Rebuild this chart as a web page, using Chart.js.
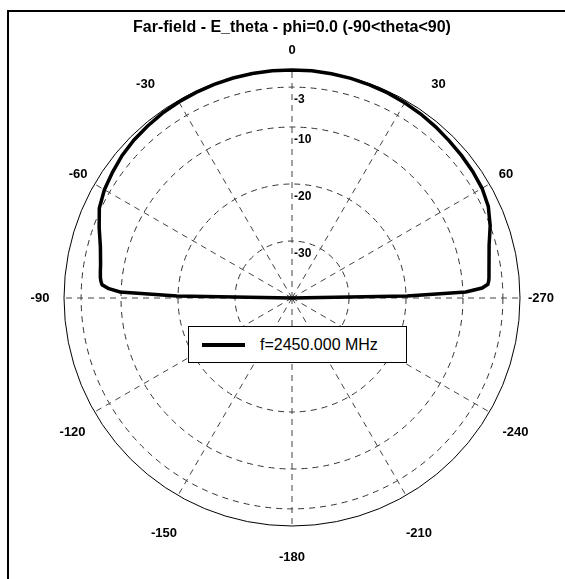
<!DOCTYPE html>
<html>
<head>
<meta charset="utf-8">
<script src="https://cdn.jsdelivr.net/npm/chart.js@4.4.1/dist/chart.umd.min.js"></script>
<style>
  html, body { margin: 0; padding: 0; background: #fff; overflow: hidden; }
  #wrap { position: relative; width: 565px; height: 579px; overflow: hidden; }
  #frame { position: absolute; left: 7px; top: 10px; width: 620px; height: 620px;
           border-top: 2px solid #000; border-left: 2px solid #000; }
  #chart { position: absolute; left: 0; top: 0; }
  #legend { position: absolute; left: 188px; top: 326px; width: 217px; height: 35px;
            border: 1.5px solid #000; background: #fff; display: flex; align-items: center;
            font: 16px "Liberation Sans", Arial, sans-serif; color: #000; }
  #legend .swatch { width: 43px; height: 4px; background: #000; margin: 0 15px 0 13px; }
</style>
</head>
<body>
<div id="wrap">
  <div id="frame"></div>
  <canvas id="chart" width="565" height="579"></canvas>
  <div id="legend"></div>
</div>
<script>
const chartTitle = "Far-field - E_theta - phi=0.0 (-90<theta<90)";
const seriesLabel = "f=2450.000 MHz";

// theta in degrees, gain in dB (normalised, clipped at -40)
const thetaDeg = [-90, -89, -88, -87, -86, -85, -84, -82, -80, -75, -70, -65, -60, -55, -50, -45, -40, -35, -30, -25, -20, -15, -10, -5,
                  0, 5, 10, 15, 20, 25, 30, 35, 40, 45, 50, 55, 60, 65, 70, 75, 80, 82, 84, 85, 86, 87, 88, 89, 90];
const gainDb = [-40, -19.8, -9.8, -7.7, -6.6, -6.35, -6.2, -6.05, -5.9, -5.2, -4.0, -2.7, -2.0, -1.55, -1.1, -0.8, -0.6, -0.4, -0.3, -0.2, -0.1, -0.05, 0, 0,
                0, 0, -0.05, -0.1, -0.2, -0.3, -0.45, -0.6, -0.8, -1.0, -1.15, -1.3, -1.5, -2.0, -3.0, -4.2, -4.9, -5.1, -5.25, -5.35, -5.55, -6.6, -9.5, -19.8, -40];

const ringDb = [-40, -30, -20, -10, -3, 0];
const angleTickLabels = ["0", "30", "60", "-270", "-240", "-210", "-180", "-150", "-120", "-90", "-60", "-30"];

// placement of the angle labels: gap beyond the outer ring, then a small nudge
const angleLabelDist = [20, 21, 19, 21, 30, 40, 31, 40, 30, 24, 19, 21];
const angleLabelNudgeX = [0, 22, 0, 0, 0, -7, 0, 6, 4, 0, 0, -22];
const angleLabelNudgeY = [0, 2, 0, 0, 5, 3, 0, 3, 5, 0, 0, 2];

// one spoke per degree, clockwise from the top
const labels = [];
const values = [];
for (let i = 0; i < 360; i++) {
  labels.push(i % 30 === 0 ? angleTickLabels[i / 30] : "");
  values.push(null);
}
thetaDeg.forEach((t, k) => { values[(t + 360) % 360] = gainDb[k]; });

const font = '"Liberation Sans", Arial, sans-serif';

const polarText = {
  id: "polarText",
  afterDraw(chart) {
    const s = chart.scales.r;
    const ctx = chart.ctx;
    ctx.save();
    ctx.fillStyle = "#000";
    ctx.textBaseline = "middle";
    // ring values along the upper spoke
    ctx.font = "bold 12px " + font;
    ctx.textAlign = "left";
    ringDb.forEach(v => {
      if (v <= s.min || v >= s.max) return;
      const d = s.getDistanceFromCenterForValue(v);
      ctx.fillText(String(v), s.xCenter + 2, s.yCenter - d + 13);
    });
    // angle labels
    ctx.font = "bold 13px " + font;
    ctx.textAlign = "center";
    angleTickLabels.forEach((txt, k) => {
      const p = s.getPointPosition(k * 30, s.drawingArea + angleLabelDist[k]);
      ctx.fillText(txt, p.x + angleLabelNudgeX[k], p.y + angleLabelNudgeY[k]);
    });
    ctx.restore();
  }
};

const chart = new Chart(document.getElementById("chart"), {
  type: "radar",
  data: {
    labels,
    datasets: [{
      label: seriesLabel,
      data: values,
      borderColor: "#000",
      borderWidth: 3.5,
      pointRadius: 0,
      fill: false,
      spanGaps: true,
      tension: 0
    }]
  },
  options: {
    responsive: false,
    animation: false,
    layout: { padding: { left: 64, right: 45, top: 0, bottom: 53 } },
    plugins: {
      legend: { display: false },
      tooltip: { enabled: false },
      title: {
        display: true,
        text: chartTitle,
        color: "#000",
        font: { family: font, size: 16, weight: "bold" },
        padding: { top: 18, bottom: 32.8 }
      }
    },
    scales: {
      r: {
        min: -40,
        max: 0,
        afterBuildTicks: s => { s.ticks = ringDb.map(v => ({ value: v })); },
        ticks: { display: false },
        grid: {
          circular: true,
          color: c => c.tick.value === 0 ? "#000" : "#333",
          lineWidth: 1
        },
        border: { dash: c => c.tick.value === 0 ? [] : [6, 5] },
        angleLines: {
          color: "#444",
          lineWidth: c => c.index % 30 === 0 ? 1 : 0,
          borderDash: [6, 5]
        },
        pointLabels: { display: false }
      }
    }
  },
  plugins: [polarText]
});

const legend = document.getElementById("legend");
legend.innerHTML = '<span class="swatch"></span><span></span>';
legend.lastChild.textContent = chart.data.datasets[0].label;
</script>
</body>
</html>
